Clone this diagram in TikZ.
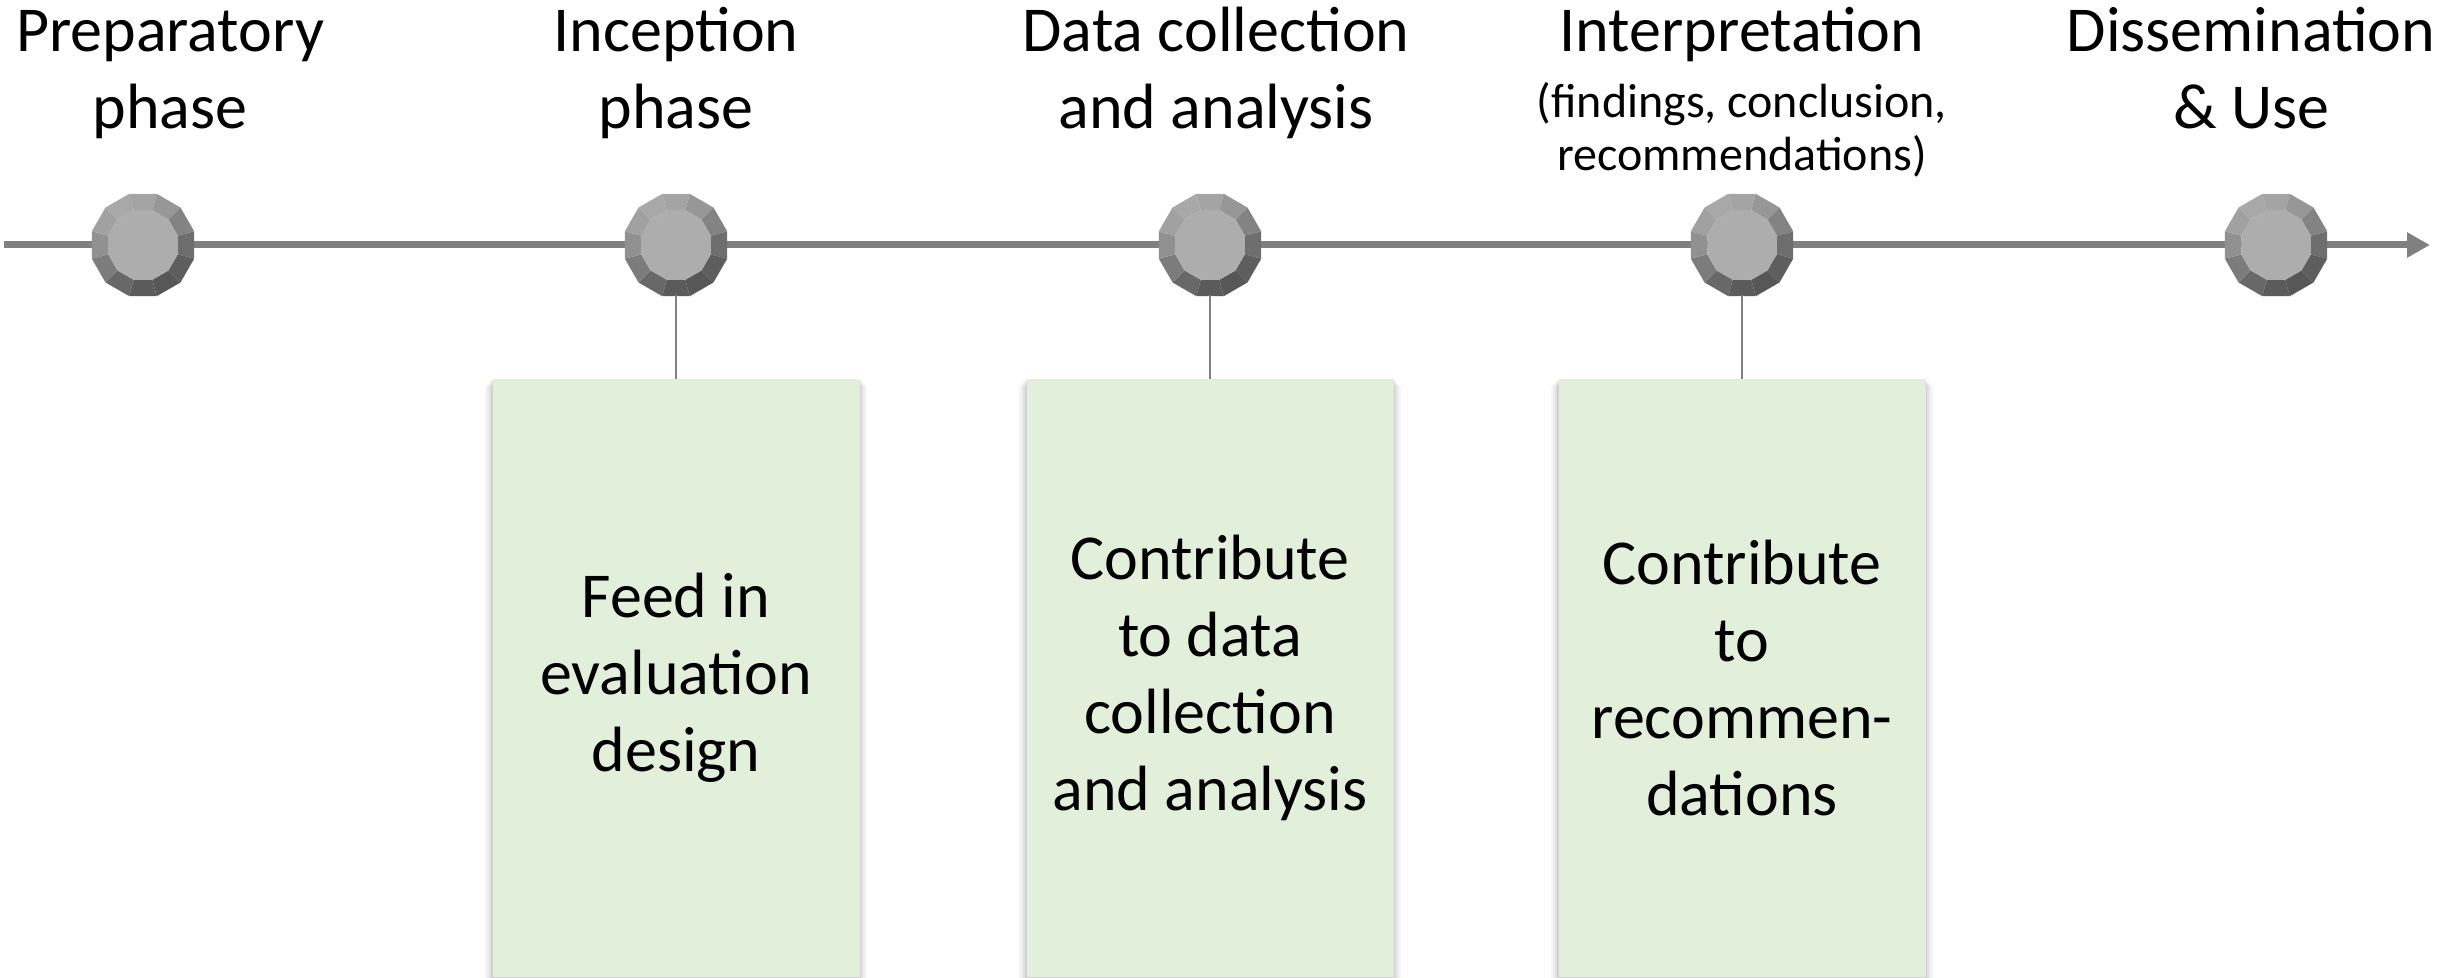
\documentclass[tikz,border=0pt]{standalone}
\usepackage{fontspec}
\setmainfont{Carlito}
\usetikzlibrary{arrows.meta,calc,backgrounds}
\definecolor{boxfill}{HTML}{E2EFDA}
\definecolor{axisgray}{HTML}{808080}
\newcommand\drawgem[1]{%
  \begin{scope}[shift={(#1)}]
    \foreach \k in {0,...,11}{
      \pgfmathsetmacro\th{30*\k}
      \pgfmathsetmacro\g{50+16*cos(\th+115)}
      \fill[white!\g!black] (\th-15:53) -- (\th+15:53) -- (\th+15:36) -- (\th-15:36) -- cycle;
    }
    \fill[white!68!black] (15:36) \foreach \k in {1,...,11}{ -- (15+30*\k:36)} -- cycle;
  \end{scope}}
\begin{document}
\begin{tikzpicture}[x=0.5pt,y=-0.5pt,
  title/.style={font=\fontsize{32}{38.5}\selectfont, anchor=base, inner sep=0pt},
  subtitle/.style={font=\fontsize{24}{27.5}\selectfont, anchor=base, inner sep=0pt},
  gemnode/.style={circle, minimum size=50pt, inner sep=0pt},
  axis/.style={draw=axisgray, line width=3.5pt, -{Triangle[length=11.5pt,width=12pt]}},
  conn/.style={draw=axisgray, line width=0.8pt},
  box/.style={fill=boxfill, minimum width=183.5pt, minimum height=299pt, inner sep=0pt,
    align=center, font=\fontsize{32}{38.5}\selectfont}
  ]
\useasboundingbox (0,0) rectangle (2461,978);

% axis
\coordinate (start) at (4,245);
\coordinate (end) at (2430,245);
\draw[axis] (start) -- (end);

% markers
\foreach \n/\x in {1/143,2/676,3/1210,4/1742,5/2276}{
  \node[gemnode] (m\n) at (\x,245) {};
  \drawgem{m\n}
}

% boxes
\node[box] (b1) at (676,678) {Feed in\\evaluation\\design};
\node[box] (b2) at (1210,678) {Contribute\\to data\\collection\\and analysis};
\node[box] (b3) at (1742,678) {Contribute\\to\\recommen-\\dations};

\begin{scope}[on background layer]
  \foreach \b in {b1,b2,b3}{
    \foreach \s/\o in {7/0.03,5/0.04,3/0.05,1.5/0.07}{
      \fill[black,opacity=\o] ($(\b.north west)+(-\s,\s)$) rectangle ($(\b.south east)+(\s,\s)$);
    }
  }
\end{scope}

% connectors
\draw[conn] (m2.south) -- (b1.north);
\draw[conn] (m3.south) -- (b2.north);
\draw[conn] (m4.south) -- (b3.north);

% titles
\node[title] (t1a) at (170,52) {Preparatory};
\node[title] (t1b) at (170,129) {phase};
\node[title] (t2a) at (676,52) {Inception};
\node[title] (t2b) at (676,129) {phase};
\node[title] (t3a) at (1216,52) {Data collection};
\node[title] (t3b) at (1216,129) {and analysis};
\node[title] (t4a) at (1742,52) {Interpretation};
\node[subtitle] (t4b) at (1742,118) {(findings, conclusion,};
\node[subtitle] (t4c) at (1742,171) {recommendations)};
\node[title] (t5a) at (2251,52) {Dissemination};
\node[title] (t5b) at (2251,129) {\& Use};
\end{tikzpicture}
\end{document}
